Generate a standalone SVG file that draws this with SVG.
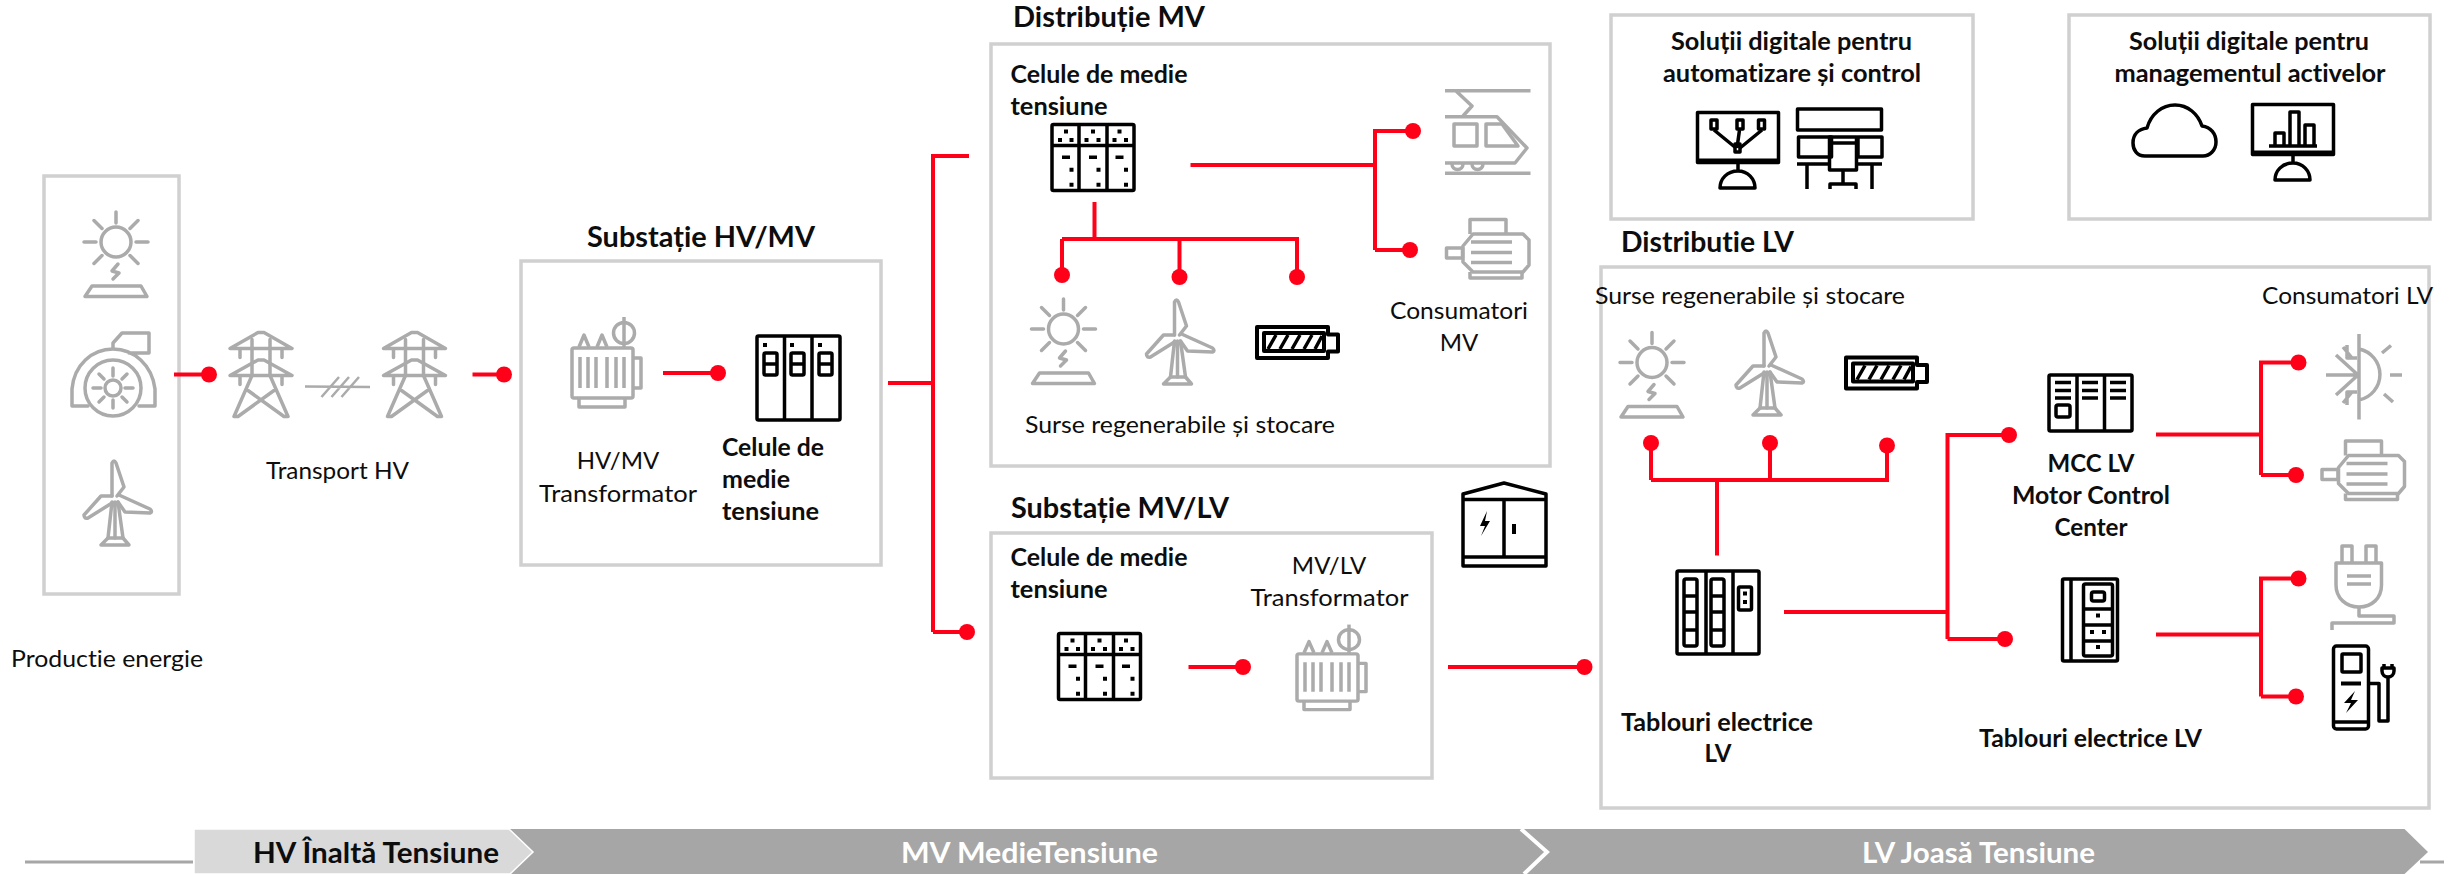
<svg xmlns="http://www.w3.org/2000/svg" xmlns:xlink="http://www.w3.org/1999/xlink" width="2458" height="874" viewBox="0 0 2458 874">
<style>
text{font-family:Lato,"Liberation Sans","Noto Sans",sans-serif;font-size:24px;fill:#0d0d0d;font-variant-ligatures:none}
.b{font-weight:700}
.t{font-weight:700;font-size:28px}
.m{text-anchor:middle}
.bt{font-weight:700;font-size:28px}
.w{fill:#fff}
.frame{fill:#fff;stroke:#d0d0d0;stroke-width:3.5}
.g{fill:none;stroke:#ababab;stroke-width:3.5;stroke-linejoin:round;stroke-linecap:round}
.gb{fill:none;stroke:#ababab;stroke-width:3.5;stroke-linejoin:round}
.k{fill:none;stroke:#000;stroke-width:3.5;stroke-linejoin:round}
.kf{fill:#000}
.r{fill:none;stroke:#ff0019;stroke-width:4;stroke-linejoin:miter}
</style>
<defs>
<marker id="dot" markerUnits="userSpaceOnUse" markerWidth="18" markerHeight="18" refX="9" refY="9" overflow="visible"><circle cx="9" cy="9" r="8" fill="#ff0019"/></marker>
<g id="sun" class="g"><circle r="15"/><path d="M0-30V-19M20,0H32M-20,0H-32M14-13.5L22-21.5M-14-13.5L-22-21.5M14,13.5L22,21.5M-14,13.5L-22,21.5"/><path d="M2,22L-4,29L3,31L-3,37"/><path d="M-24,44H25L31,54.500H-31Z"/></g>
<g id="wind" class="g"><path d="M-3-3L-3-36Q-1-40 1-36L9-12L2-3"/><path d="M4-4L35,10Q38,13 35,14L10,13L3,3"/><path d="M-3-3H-14L-31,16Q-31,20-27,19L-3,4"/><path d="M-3,3L-7,39M3,3L8,39M0,3V39"/><path d="M-7,39H8L14,46H-14Z"/></g>
<g id="tower" class="g"><path d="M-31,16L-3,0H3L31,16ZM-21,16V25M21,16V25"/><path d="M-31,43L-3,27.500H3L31,43ZM-21,43V52M21,43V52"/><path d="M-9,7V43M9,7V43M-9,43L-27,84H-23L13,58M9,43L27,84H23L-13,58"/></g>
<g id="xfmr" class="gb"><rect x="572" y="348" width="61" height="50" rx="2"/><path d="M580,357V388M588,357V388M596,357V388M607,357V388M616,357V388M624,357V388" stroke-width="3.500"/><path d="M633,358H641V388H633"/><path d="M579,398V407H625V398"/><path d="M579,347L584,335L589,347M597,347L602,335L607,347"/><circle cx="624" cy="333" r="10.500"/><path d="M624,317V347"/></g>
<g id="cellB" class="k"><rect x="1.500" y="1.500" width="82" height="66" rx="1.500"/><path d="M1.500,22.500H83.500M28.500,1.500V67.500M56.500,1.500V67.500"/><g class="kf" stroke="none"><path d="M13.500,6.500h4v4h-4zM7.500,15h4v4h-4zM19,15h4v4h-4zM40.500,6.500h4v4h-4zM34,15h4v4h-4zM46,15h4v4h-4zM67,6.500h4v4h-4zM62,15h4v4h-4zM73.500,15h4v4h-4zM11.500,32.500h8v3.500h-8zM19,44.700h4v4h-4zM19,59.700h4v4h-4zM38.500,32.500h8v3.500h-8zM46,44.700h4v4h-4zM46,59.700h4v4h-4zM65,32.500h8v3.500h-8zM73.500,44.700h4v4h-4zM73.500,59.700h4v4h-4z"/></g></g>
<g id="batt" class="k"><path d="M2,2H73V9.500H83V26.500H73V33H2Z" stroke-width="4"/><rect x="9" y="8" width="60" height="18" stroke-width="4"/><path d="M13,24L21,10M25,24L33,10M37,24L45,10M49,24L57,10M60,24L67,11" stroke-width="3.500"/></g>
<g id="motor" class="gb"><rect x="1.500" y="30" width="16" height="10"/><path d="M28,16H78L84,22V47L78,54H28L18,44V28Z"/><path d="M25,16V1.500H61V16M25,54V60H77V54"/><path d="M26,24H67M26,34.400H67M26,44.400H67" stroke-width="3.500"/></g>
<g id="screen" class="k"><rect x="1.500" y="1.500" width="81" height="50"/><path d="M1,50H83" stroke-width="5"/><path d="M42,52V60M24,77H59C59,68 52,60 42,60C31,60 24,68 24,77Z"/></g>
</defs>
<rect width="2458" height="874" fill="#fff"/>

<g id="productie-energie">
<rect class="frame" x="44" y="176" width="135" height="418"/>
<use xlink:href="#sun" href="#sun" x="116" y="242"/>
<g class="g"><circle cx="113" cy="388" r="28"/><circle cx="113" cy="388" r="8"/><path d="M113,368V376M113,400V408M93,388H101M125,388H133M99,374L104,379M127,374L122,379M99,402L104,397M127,402L122,397"/><path d="M88,406H72V389C74,365 92,349 113,349C134,349 152,365 155,389V406H139M113,349V343L122,333H149V353H129"/></g>
<use xlink:href="#wind" href="#wind" x="115" y="499"/>
<text x="11" y="667" textLength="192" lengthAdjust="spacingAndGlyphs">Productie energie</text>
</g>

<g id="transport-hv">
<use xlink:href="#tower" href="#tower" x="261" y="332.500"/>
<use xlink:href="#tower" href="#tower" x="414.500" y="332.500"/>
<path class="gb" d="M305,386.500L370,387M321.500,397L339,377M331.500,397L349,377M341.500,397L359,377" style="stroke-width:2.500"/>
<text x="266" y="479" textLength="143" lengthAdjust="spacingAndGlyphs">Transport HV</text>
</g>

<g id="substatie-hv-mv">
<text class="t" x="587" y="247" textLength="228" lengthAdjust="spacingAndGlyphs">Substație HV/MV</text>
<rect class="frame" x="521" y="261" width="360" height="304"/>
<use xlink:href="#xfmr" href="#xfmr"/>
<text class="m" x="618" y="469">HV/MV</text>
<text x="539" y="502" textLength="158" lengthAdjust="spacingAndGlyphs">Transformator</text>
<g class="k"><rect x="757" y="336" width="83" height="84" rx="1.500"/><path d="M784.500,336V420M812,336V420"/><rect x="764" y="353" width="13" height="22" rx="1.500"/><path d="M764,364H777"/><rect x="791" y="353" width="13" height="22" rx="1.500"/><path d="M791,364H804"/><rect x="819" y="353" width="13" height="22" rx="1.500"/><path d="M819,364H832"/></g>
<path class="kf" d="M763,343h4v4h-4zM790,343h4v4h-4zM818,343h4v4h-4z"/>
<text class="b" x="722" y="456" textLength="102" lengthAdjust="spacingAndGlyphs">Celule de</text>
<text class="b" x="722" y="488" textLength="68" lengthAdjust="spacingAndGlyphs">medie</text>
<text class="b" x="722" y="520" textLength="97" lengthAdjust="spacingAndGlyphs">tensiune</text>
</g>

<g id="distributie-mv">
<text class="t" x="1013" y="27" textLength="192" lengthAdjust="spacingAndGlyphs">Distribuție MV</text>
<rect class="frame" x="991" y="44" width="559" height="422"/>
<text class="b" x="1010.500" y="83" textLength="177" lengthAdjust="spacingAndGlyphs">Celule de medie</text>
<text class="b" x="1010.500" y="115" textLength="97" lengthAdjust="spacingAndGlyphs">tensiune</text>
<use xlink:href="#cellB" href="#cellB" x="1050.500" y="123"/>
<use xlink:href="#sun" href="#sun" x="1063.500" y="329"/>
<use xlink:href="#wind" href="#wind" x="1177.500" y="338"/>
<use xlink:href="#batt" href="#batt" x="1255" y="325"/>
<text x="1025" y="433" textLength="310" lengthAdjust="spacingAndGlyphs">Surse regenerabile și stocare</text>
<g class="gb"><path d="M1445,90.700H1530.500M1456,91L1472,106L1463,116M1445,116.700H1497L1527,148L1515,163H1445M1445,173.300H1530.500"/><rect x="1454" y="124" width="23" height="22"/><path d="M1486,146V124H1502L1518,146Z"/><path d="M1452,164A5.500,5.500 0 0 0 1463,164M1472,164A5.500,5.500 0 0 0 1483,164"/></g>
<use xlink:href="#motor" href="#motor" x="1445" y="218"/>
<text class="m" x="1459" y="319" textLength="138" lengthAdjust="spacingAndGlyphs">Consumatori</text>
<text class="m" x="1459" y="351">MV</text>
</g>

<g id="substatie-mv-lv">
<text class="t" x="1011" y="518" textLength="218" lengthAdjust="spacingAndGlyphs">Substație MV/LV</text>
<rect class="frame" x="991" y="533" width="441" height="245"/>
<text class="b" x="1010.500" y="566" textLength="177" lengthAdjust="spacingAndGlyphs">Celule de medie</text>
<text class="b" x="1010.500" y="598" textLength="97" lengthAdjust="spacingAndGlyphs">tensiune</text>
<use xlink:href="#cellB" href="#cellB" x="1057" y="632"/>
<text class="m" x="1329" y="574">MV/LV</text>
<text x="1250.500" y="606" textLength="158" lengthAdjust="spacingAndGlyphs">Transformator</text>
<use xlink:href="#xfmr" href="#xfmr" transform="translate(725,325) scale(1,.945)"/>
</g>

<g id="post-transformare">
<g class="k"><path d="M1463,566V494L1504,483L1546,494V566ZM1463,499.500H1546M1504,499.500V557M1463,557H1546"/></g>
<path class="kf" d="M1487,511L1480,526H1485L1481,536L1490,521H1485ZM1512,524h4v10h-4z"/>
</g>

<g id="solutii-automatizare">
<rect class="frame" x="1611" y="15" width="362" height="204"/>
<text class="b m" x="1791.500" y="50" textLength="241" lengthAdjust="spacingAndGlyphs">Soluții digitale pentru</text>
<text class="b m" x="1792" y="82" textLength="258" lengthAdjust="spacingAndGlyphs">automatizare și control</text>
<use xlink:href="#screen" href="#screen" x="1696" y="111"/>
<g class="k"><path d="M1714,130L1736,148M1739.500,130L1737,148M1762,130L1740,148"/><rect x="1711" y="120" width="6" height="9"/><rect x="1737" y="120" width="6" height="9"/><rect x="1758.500" y="120" width="6" height="9"/><rect x="1735" y="144" width="5" height="8"/></g>
<g class="k"><rect x="1797.500" y="109" width="84" height="21"/><rect x="1798.500" y="137" width="33" height="20"/><rect x="1858" y="137" width="24" height="20"/><rect x="1829.500" y="137" width="27" height="33"/><path d="M1829.500,143H1856.500M1797,164H1829M1857,164H1882M1807,164V189M1872,164V189M1843,170V184M1830,189V184H1856V189"/></g>
</g>

<g id="solutii-active">
<rect class="frame" x="2069" y="15" width="361" height="204"/>
<text class="b m" x="2249" y="50" textLength="240" lengthAdjust="spacingAndGlyphs">Soluții digitale pentru</text>
<text class="b m" x="2250" y="82" textLength="271" lengthAdjust="spacingAndGlyphs">managementul activelor</text>
<path class="k" d="M2145,156C2137,156 2133,150 2133,143C2133,134 2139,129 2147,128C2151,114 2162,105 2175,105C2188,105 2198,114 2202,126C2211,127 2216,134 2216,142C2216,150 2210,156 2203,156Z"/>
<use xlink:href="#screen" href="#screen" x="2251" y="103"/>
<path class="k" d="M2269,146H2317M2275,146V133H2284V146M2290,146V112H2299V146M2305,146V125H2314V146"/>
</g>

<g id="distributie-lv">
<text class="t" x="1621" y="252" textLength="173" lengthAdjust="spacingAndGlyphs">Distributie LV</text>
<rect class="frame" x="1601" y="267" width="828" height="541"/>
<text x="1595" y="304" textLength="310" lengthAdjust="spacingAndGlyphs">Surse regenerabile și stocare</text>
<text x="2262" y="304" textLength="171" lengthAdjust="spacingAndGlyphs">Consumatori LV</text>
<use xlink:href="#sun" href="#sun" x="1652" y="362.500"/>
<use xlink:href="#wind" href="#wind" x="1767" y="369"/>
<use xlink:href="#batt" href="#batt" x="1844" y="355.500"/>
</g>

<g id="tablouri-lv">
<g class="k"><rect x="1677" y="571" width="82" height="83" rx="1.500"/><path d="M1706,571V654M1733,571V654"/><rect x="1684" y="579" width="13" height="67" rx="2"/><path d="M1684,596H1697M1684,612H1697M1684,630H1697"/><rect x="1711" y="579" width="13" height="67" rx="2"/><path d="M1711,596H1724M1711,612H1724M1711,630H1724"/><rect x="1738.500" y="587" width="13" height="23" rx="1.500"/></g>
<path class="kf" d="M1743,591.500h4v4h-4zM1743,600h4v4h-4z"/>
<text class="b m" x="1717" y="731" textLength="192" lengthAdjust="spacingAndGlyphs">Tablouri electrice</text>
<text class="b m" x="1718" y="762">LV</text>
</g>

<g id="mcc-lv">
<g class="k"><rect x="2049" y="375" width="83" height="56" rx="1.500"/><path d="M2077,375V431M2104.500,375V431M2055,382.500H2071M2055,390.500H2071M2055,398H2071M2082,382.500H2098M2082,390.500H2098M2082,398H2098M2110,382.500H2126M2110,390.500H2126M2110,398H2126"/><rect x="2056" y="405" width="14" height="12" rx="2"/></g>
<text class="b m" x="2091" y="472">MCC LV</text>
<text class="b m" x="2091" y="504" textLength="158" lengthAdjust="spacingAndGlyphs">Motor Control</text>
<text class="b m" x="2091" y="536" textLength="73" lengthAdjust="spacingAndGlyphs">Center</text>
</g>

<g id="tablouri-electrice-lv">
<g class="k"><rect x="2062.500" y="579" width="55" height="82" rx="1.500"/><path d="M2071,579V661"/><rect x="2083.500" y="584" width="29" height="72" rx="2"/><path d="M2083.500,609H2112.500M2083.500,625H2112.500M2083.500,641H2112.500"/><rect x="2091.500" y="592" width="13" height="9" rx="2"/></g>
<path class="kf" d="M2096,613.500h4v4h-4zM2090,630h4v4h-4zM2102,630h4v4h-4zM2096,645h4v4h-4z"/>
<text class="b" x="1979" y="747" textLength="223" lengthAdjust="spacingAndGlyphs">Tablouri electrice LV</text>
</g>

<g id="consumatori-lv">
<g class="gb"><path d="M2359,334V419.500M2359,349A26,26 0 0 1 2359,400M2390,375H2402M2382,353L2391,345.500M2384,394L2393,402M2326,375H2359M2336,355L2358,375L2336,395M2343,347L2352,358M2343,403L2352,392M2347,345V358H2357M2347,405V392H2357"/></g>
<use xlink:href="#motor" href="#motor" x="2320.500" y="439.500"/>
<g class="gb"><path d="M2342,563V546H2352V563M2366,563V546H2376V563M2336,563H2381.500V585C2381.500,598 2372,607 2359,607C2346,607 2336,598 2336,585ZM2347,576H2371M2347,584H2371"/><path d="M2359,607V616H2394V623H2332V630"/></g>
<g class="k"><rect x="2333.500" y="646" width="35" height="83" rx="3"/><rect x="2342" y="654" width="19" height="18" rx="1"/><path d="M2341,683.500H2361" stroke-width="4"/><path d="M2333,722H2369M2369,683.500H2379V721H2388V676"/><path d="M2382,668H2394V671C2394,675 2391,677 2388,677C2385,677 2382,675 2382,671ZM2384,668V664M2392,668V664"/></g>
<path class="kf" d="M2355,691L2344,703H2351L2346,713L2358,700H2351Z"/>
</g>

<g id="tensiune-band">
<path d="M25,862H193M2420,862H2444" stroke="#a6a6a6" stroke-width="3" fill="none"/>
<path d="M500,829H2404.500L2428,852L2404.500,874H500Z" fill="#a6a6a6"/>
<path d="M194,829H509L533,852L510,874H194Z" fill="#d9d9d9" stroke="#fff" stroke-width="1.500"/>
<path d="M1521,829L1547,852L1524,874" fill="none" stroke="#fff" stroke-width="4"/>
<text class="bt" x="253" y="863" textLength="246" lengthAdjust="spacingAndGlyphs">HV Înaltă Tensiune</text>
<text class="bt" x="901" y="863" textLength="257" lengthAdjust="spacingAndGlyphs" style="fill:#fff">MV MedieTensiune</text>
<text class="bt" x="1862" y="863" textLength="233" lengthAdjust="spacingAndGlyphs" style="fill:#fff">LV Joasă Tensiune</text>
</g>

<g id="connectors" class="r">
<path d="M174,374.500H209" marker-end="url(#dot)"/>
<path d="M472.500,374.500H504" marker-end="url(#dot)"/>
<path d="M663,373H718" marker-end="url(#dot)"/>
<path d="M888,383H933"/>
<path d="M933,632V156H969"/>
<path d="M933,632H967" marker-end="url(#dot)"/>
<path d="M1190.500,165H1375"/>
<path d="M1375,250V131H1413" marker-end="url(#dot)"/>
<path d="M1375,250H1410" marker-end="url(#dot)"/>
<path d="M1094.500,202V239"/>
<path d="M1062,239H1297V277" marker-end="url(#dot)"/>
<path d="M1179.500,239V277" marker-end="url(#dot)"/>
<path d="M1062,239V275" marker-end="url(#dot)"/>
<path d="M1188.500,667H1243" marker-end="url(#dot)"/>
<path d="M1448,667H1584.500" marker-end="url(#dot)"/>
<path d="M1651,480H1887V445.500" marker-end="url(#dot)"/>
<path d="M1651,480V443" marker-end="url(#dot)"/>
<path d="M1770,480V443" marker-end="url(#dot)"/>
<path d="M1717,480V555.500"/>
<path d="M1784,612H1947.500"/>
<path d="M1947.500,639V435H2009" marker-end="url(#dot)"/>
<path d="M1947.500,639H2005" marker-end="url(#dot)"/>
<path d="M2156,434.500H2261"/>
<path d="M2261,475V362.500H2298.500" marker-end="url(#dot)"/>
<path d="M2261,475H2296" marker-end="url(#dot)"/>
<path d="M2156,634.500H2261"/>
<path d="M2261,696.500V578.500H2298.500" marker-end="url(#dot)"/>
<path d="M2261,696.500H2296" marker-end="url(#dot)"/>
</g>
</svg>
